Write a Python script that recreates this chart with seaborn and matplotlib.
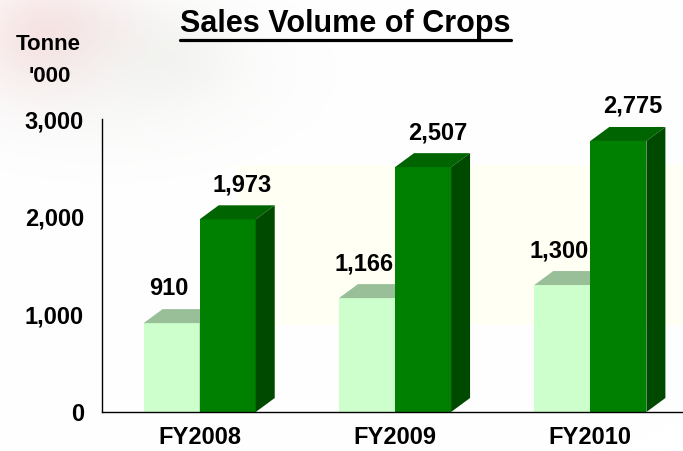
import numpy as np
import pandas as pd
import matplotlib
matplotlib.use("Agg")
import matplotlib.pyplot as plt
from matplotlib.patches import Polygon
from matplotlib.lines import Line2D
import seaborn as sns

# ---- data ----
years = ["FY2008", "FY2009", "FY2010"]
series_names = ["Series 1", "Series 2"]
light_values = [910, 1166, 1300]
dark_values = [1973, 2507, 2775]
y_ticks = [0, 1000, 2000, 3000]
y_tick_labels = ["0", "1,000", "2,000", "3,000"]

# ---- style ----
sns.set_style("white")
plt.rcParams["font.family"] = ["Liberation Sans", "DejaVu Sans"]
plt.rcParams["font.weight"] = "bold"
plt.rcParams["text.color"] = "black"
plt.rcParams["xtick.color"] = "black"
plt.rcParams["ytick.color"] = "black"
plt.rcParams["xtick.labelcolor"] = "black"
plt.rcParams["ytick.labelcolor"] = "black"

LIGHT_FRONT, LIGHT_TOP, LIGHT_SIDE = "#CCFFCC", "#99BF99", "#88AA88"
DARK_FRONT, DARK_TOP, DARK_SIDE = "#008000", "#006400", "#004A00"

W, H = 683, 451
fig = plt.figure(figsize=(W / 100, H / 100), dpi=100)
fig.patch.set_facecolor("white")

# ---- faint background decoration ----
bg = fig.add_axes([0, 0, 1, 1], zorder=-10)
bg.axis("off")
img = np.ones((H, W, 3))
yy, xx = np.mgrid[0:H, 0:W]
def blend(img, cx, cy, sx, sy, amp, col):
    g = amp * np.exp(-(((xx - cx) / sx) ** 2 + ((yy - cy) / sy) ** 2) / 2.0)
    col = np.array(col) / 255.0
    return img * (1 - g[..., None]) + col * g[..., None]
img = blend(img, 110, 70, 110, 55, 0.30, (228, 228, 225))
img = blend(img, 35, 35, 45, 40, 0.16, (230, 130, 130))
img = blend(img, 90, 20, 45, 25, 0.08, (220, 150, 160))
img = blend(img, 170, 55, 45, 30, 0.10, (195, 205, 185))
band = (yy >= 165) & (yy <= 324) & (xx >= 238)
img[band] = np.array([255, 255, 243]) / 255.0
bg.imshow(img, extent=[0, W, 0, H], origin="upper", aspect="auto")
bg.set_xlim(0, W)
bg.set_ylim(0, H)

# ---- main axes ----
ax = fig.add_axes([102 / W, 39 / H, 586 / W, 293 / H])
ax.set_facecolor("none")

df = pd.DataFrame({
    "year": years * 2,
    "volume": light_values + dark_values,
    "series": [series_names[0]] * 3 + [series_names[1]] * 3,
})
sns.barplot(data=df, x="year", y="volume", hue="series",
            palette=[LIGHT_FRONT, DARK_FRONT], width=0.574, saturation=1,
            legend=False, ax=ax, linewidth=0, errorbar=None)

ax.set_xlim(-0.5, 2.5)
ax.set_ylim(0, 3000)

px_per_cat = 586 / 3.0
px_per_unit = 293 / 3000.0
dx = 19 / px_per_cat
dy = 14 / px_per_unit
lab_gap = 14 / px_per_unit

styles = [(LIGHT_TOP, LIGHT_SIDE, 2, -0.015), (DARK_TOP, DARK_SIDE, 3, 0.075)]
for cont, (ctop, cside, z, xoff) in zip(ax.containers, styles):
    for bar in cont:
        x0, w, h = bar.get_x(), bar.get_width(), bar.get_height()
        bar.set_zorder(z)
        ax.add_patch(Polygon([(x0, h), (x0 + w, h), (x0 + w + dx, h + dy), (x0 + dx, h + dy)],
                             closed=True, facecolor=ctop, edgecolor="none", zorder=z, clip_on=False))
        ax.add_patch(Polygon([(x0 + w, 0), (x0 + w + dx, dy), (x0 + w + dx, h + dy), (x0 + w, h)],
                             closed=True, facecolor=cside, edgecolor="none", zorder=z, clip_on=False))
        ax.text(x0 + w / 2 + xoff, h + dy + lab_gap, f"{int(h):,}", ha="center", va="baseline",
                fontsize=17, fontweight="bold", color="black", zorder=5, clip_on=False)

# axes styling
for s in ["top", "right"]:
    ax.spines[s].set_visible(False)
for s in ["left", "bottom"]:
    ax.spines[s].set_color("black")
    ax.spines[s].set_linewidth(1.0)
    ax.spines[s].set_zorder(10)

ax.set_xticks([0, 1, 2], labels=years)
ax.set_xticks([0.5, 1.5], minor=True)
ax.tick_params(axis="x", which="major", length=0, pad=10, labelsize=17, labelcolor="black")
ax.tick_params(axis="x", which="minor", direction="in", length=4, width=1, color="black")
ax.set_yticks(y_ticks, labels=y_tick_labels)
ax.tick_params(axis="y", direction="inout", length=7, width=1, color="black", pad=9.5,
               labelsize=17, labelcolor="black")
for lbl in ax.get_xticklabels() + ax.get_yticklabels():
    lbl.set_fontweight("bold")
ax.set_xlabel("")
ax.set_ylabel("")

# texts
title = fig.text(345.5 / W, 1 - 32 / H, "Sales Volume of Crops", ha="center", va="baseline",
                 fontsize=22, fontweight="bold", color="black")
fig.text(48 / W, 1 - 50 / H, "Tonne", ha="center", va="baseline", fontsize=16,
         fontweight="bold", color="black")
fig.text(50 / W, 1 - 82 / H, "'000", ha="center", va="baseline", fontsize=16,
         fontweight="bold", color="black")

fig.canvas.draw()
bb = title.get_window_extent()
uy = (bb.y0 - 0.5) / H
fig.add_artist(Line2D([bb.x0 / W, bb.x1 / W], [uy, uy], color="black", linewidth=2.3,
                      transform=fig.transFigure))

fig.savefig("out.png", dpi=100)
